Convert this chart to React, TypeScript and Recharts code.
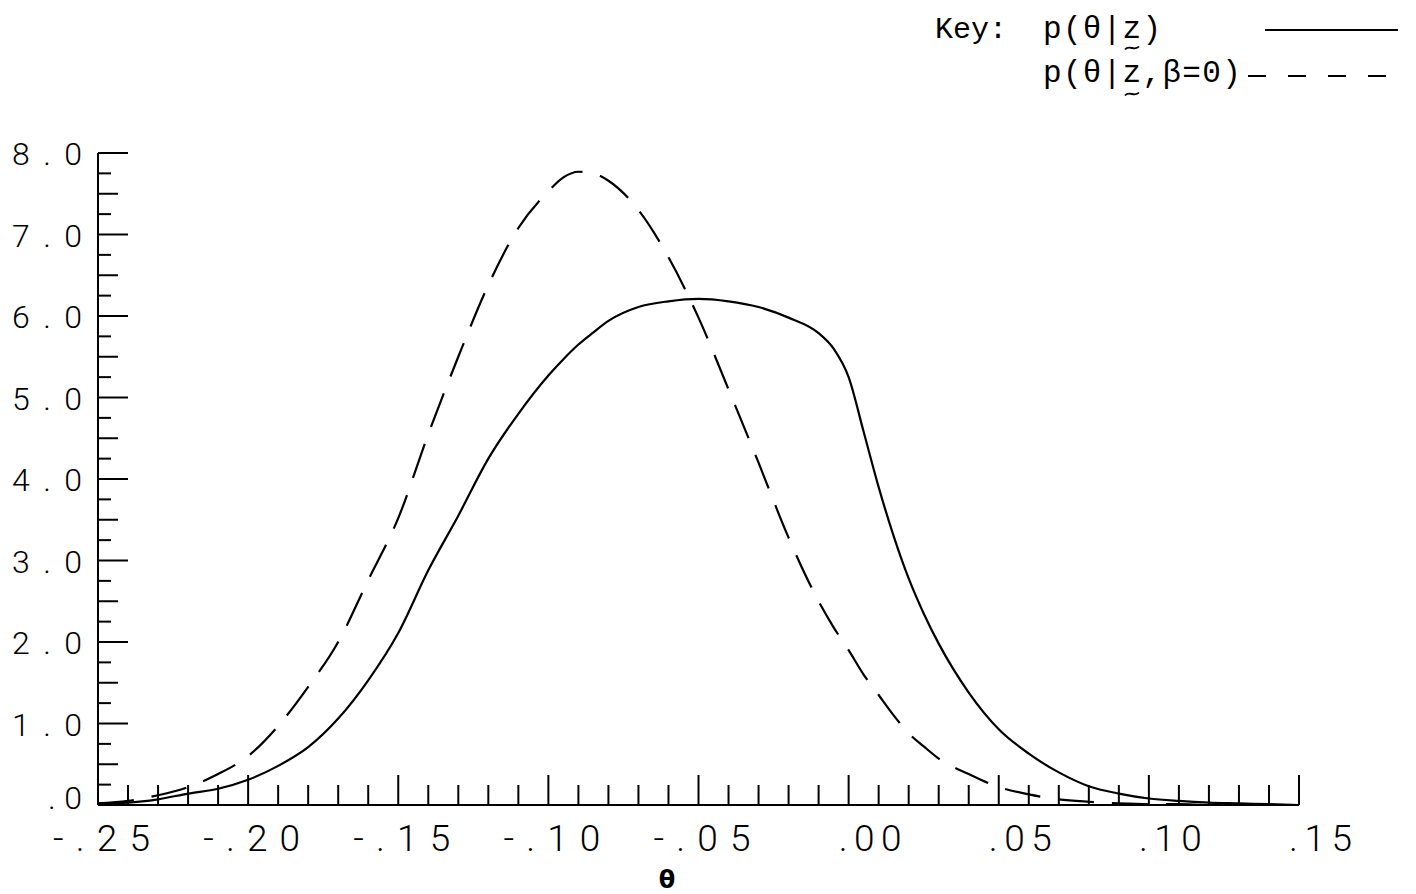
import { Line, LineChart, XAxis, YAxis } from 'recharts';

// theta grid (x) and the two posterior densities
const thetas = [
  -0.25, -0.24, -0.23, -0.22, -0.21, -0.2, -0.19, -0.18, -0.17, -0.16, -0.15, -0.14, -0.13, -0.12,
  -0.11, -0.1, -0.095, -0.09, -0.085, -0.08, -0.07, -0.06, -0.05, -0.04, -0.03, -0.02, -0.01, -0.005,
  0.0, 0.005, 0.01, 0.015, 0.02, 0.025, 0.03, 0.04, 0.05, 0.06, 0.07, 0.08, 0.09, 0.1, 0.11, 0.12,
  0.13, 0.14, 0.15,
];

const pFull = [
  0.02, 0.03, 0.07, 0.14, 0.2, 0.31, 0.48, 0.71, 1.06, 1.53, 2.11, 2.88, 3.55, 4.25,
  4.8, 5.27, 5.47, 5.65, 5.8, 5.94, 6.11, 6.18, 6.21, 6.18, 6.11, 5.98, 5.79, 5.6,
  5.25, 4.58, 3.9, 3.3, 2.78, 2.35, 1.98, 1.38, 0.93, 0.63, 0.4, 0.23, 0.14, 0.08, 0.05, 0.03,
  0.02, 0.01, 0.0,
];

const pBetaZero = [
  0.02, 0.05, 0.12, 0.22, 0.38, 0.6, 0.97, 1.45, 2.0, 2.76, 3.52, 4.55, 5.5, 6.38,
  7.08, 7.53, 7.7, 7.77, 7.75, 7.66, 7.3, 6.72, 5.98, 5.1, 4.2, 3.28, 2.5, 2.18,
  1.9, 1.6, 1.35, 1.1, 0.88, 0.72, 0.57, 0.38, 0.22, 0.13, 0.07, 0.04, 0.02, 0.01, 0.01, 0.0,
  0.0, 0.0, 0.0,
];

const xTicks = [
  -0.25, -0.24, -0.23, -0.22, -0.21, -0.2, -0.19, -0.18, -0.17, -0.16, -0.15, -0.14, -0.13, -0.12,
  -0.11, -0.1, -0.09, -0.08, -0.07, -0.06, -0.05, -0.04, -0.03, -0.02, -0.01, 0.0, 0.01, 0.02,
  0.03, 0.04, 0.05, 0.06, 0.07, 0.08, 0.09, 0.1, 0.11, 0.12, 0.13, 0.14, 0.15,
];
const xMajor = [-0.25, -0.2, -0.15, -0.1, -0.05, 0.0, 0.05, 0.1, 0.15];
const xLabels = ['-.25', '-.20', '-.15', '-.10', '-.05', '.00', '.05', '.10', '.15'];

const yTicks = [
  0, 0.25, 0.5, 0.75, 1, 1.25, 1.5, 1.75, 2, 2.25, 2.5, 2.75, 3, 3.25, 3.5, 3.75, 4,
  4.25, 4.5, 4.75, 5, 5.25, 5.5, 5.75, 6, 6.25, 6.5, 6.75, 7, 7.25, 7.5, 7.75, 8,
];
const yMajor = [0, 1, 2, 3, 4, 5, 6, 7, 8];
const yLabels = ['.0', '1.0', '2.0', '3.0', '4.0', '5.0', '6.0', '7.0', '8.0'];

const keyTitle = 'Key:';
const seriesNames = ['p(θ|z)', 'p(θ|z,β=0)'];

const data = thetas.map((t, i) => ({ theta: t, full: pFull[i], beta0: pBetaZero[i] }));

const numFont = "Roboto, 'DejaVu Sans', sans-serif";
const monoFont = "'Liberation Mono', 'DejaVu Sans Mono', monospace";

const near = (a: number, b: number) => Math.abs(a - b) < 1e-6;

const XTick = (props: any) => {
  const { x, y, payload } = props;
  const idx = xMajor.findIndex((m) => near(m, payload.value));
  const major = idx >= 0;
  const label = major ? xLabels[idx] : '';
  const negative = label.startsWith('-');
  return (
    <g>
      <line x1={x} y1={y} x2={x} y2={y - (major ? 30 : 20)} stroke="#000" strokeWidth={2} />
      {major && (
        <text
          x={negative ? x - 45 : x - 10}
          y={y + 46}
          textLength={negative ? 97 : 63}
          lengthAdjust="spacing"
          fontFamily={numFont}
          fontWeight={300}
          fontSize={37}
          fill="#000"
        >
          {label}
        </text>
      )}
    </g>
  );
};

const YTick = (props: any) => {
  const { x, y, payload } = props;
  const idx = yMajor.findIndex((m) => near(m, payload.value));
  const major = idx >= 0;
  const half = near(payload.value % 1, 0.5);
  const len = major ? 30 : half ? 20 : 13;
  const label = major ? yLabels[idx] : '';
  const zero = label.length < 3;
  return (
    <g>
      <line x1={x} y1={y} x2={x + len} y2={y} stroke="#000" strokeWidth={2} />
      {major && (
        <text
          x={zero ? x - 50 : x - 86}
          y={zero ? y + 4 : y + 12}
          textLength={zero ? 34 : 70}
          lengthAdjust="spacing"
          fontFamily={numFont}
          fontWeight={300}
          fontSize={32}
          fill="#000"
        >
          {label}
        </text>
      )}
    </g>
  );
};

// small tilde under the vector z, drawn as a stroke
const tilde = (cx: number, cy: number) =>
  `M ${cx - 7} ${cy + 1.5} C ${cx - 3} ${cy - 3.5}, ${cx + 3} ${cy + 3.5}, ${cx + 7} ${cy - 1.5}`;

const Overlay = () => (
  <svg
    width={1416}
    height={894}
    style={{ position: 'absolute', left: 0, top: 0, pointerEvents: 'none' }}
  >
    <text x={935} y={38} fontFamily={monoFont} fontSize={30} fill="#000">
      {keyTitle}
    </text>
    <text x={1043} y={38} fontFamily={monoFont} fontSize={31} letterSpacing={1.3} fill="#000">
      {seriesNames[0]}
    </text>
    <path d={tilde(1132, 48)} stroke="#000" strokeWidth={1.8} fill="none" />
    <line x1={1265} y1={30} x2={1398} y2={30} stroke="#000" strokeWidth={2} />
    <text x={1043} y={82} fontFamily={monoFont} fontSize={31} letterSpacing={1.3} fill="#000">
      {seriesNames[1]}
    </text>
    <path d={tilde(1132, 94)} stroke="#000" strokeWidth={1.8} fill="none" />
    <line x1={1248} y1={76} x2={1398} y2={76} stroke="#000" strokeWidth={2} strokeDasharray="18 22" />
    <text x={667} y={888} textAnchor="middle" fontFamily="'DejaVu Sans', sans-serif" fontWeight="bold" fontSize={24} fill="#000">
      θ
    </text>
  </svg>
);

const App = (): React.ReactElement => {
  return (
    <div style={{ position: 'absolute', left: 0, top: 0, width: 1416, height: 894, background: '#fff' }}>
      <LineChart width={1416} height={894} data={data} margin={{ top: 153, right: 117, bottom: 0, left: 0 }}>
        <XAxis
          dataKey="theta"
          type="number"
          domain={[-0.25, 0.15]}
          ticks={xTicks}
          interval={0}
          height={89}
          tickSize={0}
          tickMargin={0}
          tickLine={false}
          axisLine={{ stroke: '#000', strokeWidth: 2 }}
          tick={<XTick />}
        />
        <YAxis
          type="number"
          domain={[0, 8]}
          ticks={yTicks}
          interval={0}
          width={98}
          tickSize={0}
          tickMargin={0}
          tickLine={false}
          axisLine={{ stroke: '#000', strokeWidth: 2 }}
          tick={<YTick />}
        />
        <Line type="monotone" dataKey="full" stroke="#000" strokeWidth={2.2} dot={false} isAnimationActive={false} />
        <Line
          type="monotone"
          dataKey="beta0"
          stroke="#000"
          strokeWidth={2.2}
          strokeDasharray="36 18"
          dot={false}
          isAnimationActive={false}
        />
      </LineChart>
      <Overlay />
    </div>
  );
};

export default App;
